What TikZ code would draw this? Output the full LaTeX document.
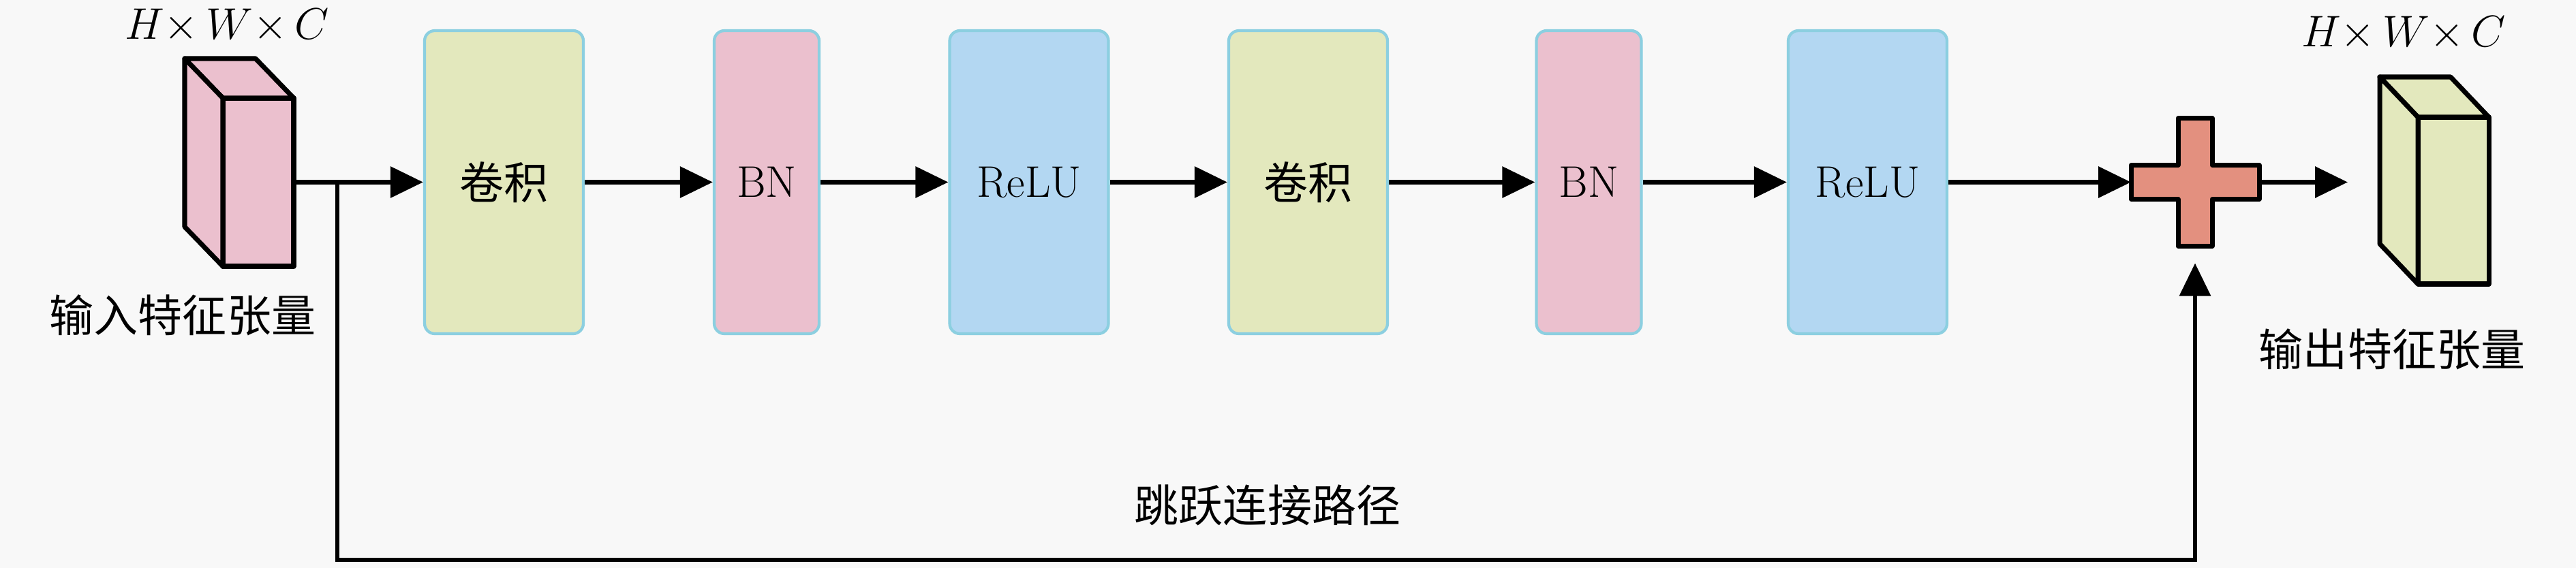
\RequirePackage{fix-cm}
\documentclass[tikz,border=0pt]{standalone}
\usepackage{fontspec}
\newfontfamily\cjk{Noto Sans CJK SC}
\usetikzlibrary{arrows.meta,positioning,calc}

\definecolor{bgc}{HTML}{F8F8F8}
\definecolor{convc}{HTML}{E3E8BD}
\definecolor{bnc}{HTML}{EBC0CE}
\definecolor{reluc}{HTML}{B3D7F2}
\definecolor{addc}{HTML}{E3907F}
\definecolor{edgec}{HTML}{8CCFE0}

\newcommand{\dims}{$H{\times}\,W{\times}\,C$}

\begin{document}
\begin{tikzpicture}[
    font=\fontsize{18.5}{22}\selectfont,
    layer/.style={draw=edgec, line width=1.2pt, rounded corners=1.5mm, minimum height=4.45cm, inner sep=0pt},
    widebox/.style={layer, minimum width=2.33cm},
    narrowbox/.style={layer, minimum width=1.54cm},
    conv/.style={widebox, fill=convc},
    bn/.style={narrowbox, fill=bnc},
    relu/.style={widebox, fill=reluc},
    face/.style={draw=black, line width=2pt, line join=round},
    tensor/.style={face, minimum width=1.04cm, inner sep=0pt, outer sep=0pt},
    flow/.style={-{Triangle[length=4.8mm,width=4.5mm]}, line width=1.8pt}
]
    \fill[bgc] (0,0) rectangle (37.8,-8.34);
    \useasboundingbox (0,0) rectangle (37.8,-8.34);

    \node [tensor, fill=bnc, minimum height=2.47cm](in) at (3.79,-2.675) {};
    \draw[face, fill=bnc] (in.north west) -- ++(-0.56,0.58) -- ++(1.04,0) -- (in.north east) -- cycle;
    \draw[face, fill=bnc] (in.north west) -- ++(-0.56,0.58) -- ++(0,-2.47) -- (in.south west) -- cycle;

    \node [conv](c1) at (7.395,-2.675) {\cjk 卷积};
    \node [bn](b1) at (11.25,-2.675) {BN};
    \node [relu](r1) at (15.10,-2.675) {ReLU};
    \node [conv](c2) at (19.195,-2.675) {\cjk 卷积};
    \node [bn](b2) at (23.315,-2.675) {BN};
    \node [relu](r2) at (27.405,-2.675) {ReLU};

    \node [minimum size=1.88cm, inner sep=0pt, outer sep=0pt](add) at (32.21,-2.675) {};
    \draw[face, fill=addc] ($(add)+(-0.25,0.94)$) -- ++(0.5,0) -- ++(0,-0.69) -- ++(0.69,0)
        -- ++(0,-0.5) -- ++(-0.69,0) -- ++(0,-0.69) -- ++(-0.5,0) -- ++(0,0.69)
        -- ++(-0.69,0) -- ++(0,0.5) -- ++(0.69,0) -- cycle;

    \node [tensor, fill=convc, minimum height=2.45cm](out) at (36.00,-2.945) {};
    \draw[face, fill=convc] (out.north west) -- ++(-0.56,0.59) -- ++(1.04,0) -- (out.north east) -- cycle;
    \draw[face, fill=convc] (out.north west) -- ++(-0.56,0.59) -- ++(0,-2.45) -- (out.south west) -- cycle;

    \node [anchor=base, inner sep=0pt](indim) at (3.33,-0.57) {\dims};
    \node [anchor=base, inner sep=0pt](outdim) at (35.27,-0.68) {\dims};
    \node (intxt) at (2.68,-4.63) {\cjk 输入特征张量};
    \node (outtxt) at (35.10,-5.13) {\cjk 输出特征张量};
    \node (skiptxt) at (18.60,-7.42) {\cjk 跳跃连接路径};

    \coordinate (split) at (4.95,-2.675);

    \draw[flow] (in) -- (c1);
    \draw[flow] (c1) -- (b1);
    \draw[flow] (b1) -- (r1);
    \draw[flow] (r1) -- (c2);
    \draw[flow] (c2) -- (b2);
    \draw[flow] (b2) -- (r2);
    \draw[flow] (r2) -- (add);
    \draw[flow, shorten >=1.03cm] (add.east) -- (add.east -| out.west);
    \draw[flow, shorten >=0.25cm] (split) -- ++(0,-5.545) -| (add.south);
\end{tikzpicture}
\end{document}
